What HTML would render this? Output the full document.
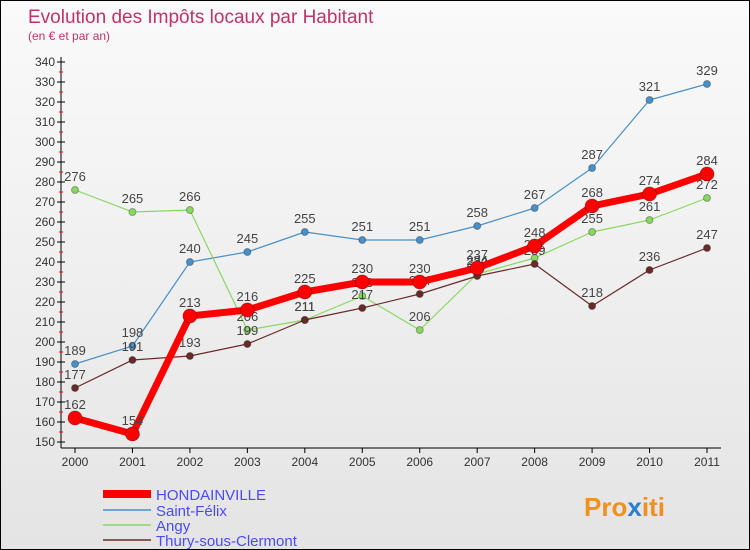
<!DOCTYPE html>
<html><head><meta charset="utf-8"><style>
body{margin:0}
#c{width:750px;height:550px;position:relative;background:linear-gradient(#fafafa,#e4e4e4);box-sizing:border-box;border:1px solid #000;font-family:"Liberation Sans",sans-serif;overflow:hidden}
svg text{font-family:"Liberation Sans",sans-serif}
</style></head><body>
<div id="c">
<svg id="s" width="750" height="550">
<text x="27" y="22" font-size="19" fill="#c0336a">Evolution des Impôts locaux par Habitant</text>
<text x="27" y="39" font-size="12" fill="#c0336a">(en € et par an)</text>
<g id="axes"></g><g id="series"></g>
<g>
<line x1="102" y1="493" x2="150" y2="493" stroke="#f00" stroke-width="8"/>
<text x="155" y="499" font-size="15" fill="#4a4aff">HONDAINVILLE</text>
<line x1="102" y1="509" x2="150" y2="509" stroke="#4a90c8" stroke-width="1.5"/>
<text x="155" y="515" font-size="15" fill="#4a4aff">Saint-Félix</text>
<line x1="102" y1="524" x2="150" y2="524" stroke="#88d860" stroke-width="1.5"/>
<text x="155" y="530" font-size="15" fill="#4a4aff">Angy</text>
<line x1="102" y1="539" x2="150" y2="539" stroke="#6b2a2a" stroke-width="1.5"/>
<text x="155" y="545" font-size="15" fill="#4a4aff">Thury-sous-Clermont</text>
</g>
<text x="583" y="515" font-size="26" font-weight="bold" fill="#f09020">Pro<tspan fill="#2a7fd0">x</tspan>iti</text>
</svg>
</div>
<script>
const years=[2000,2001,2002,2003,2004,2005,2006,2007,2008,2009,2010,2011];
const hondainville=[162,154,213,216,225,230,230,237,248,268,274,284];
const saintFelix=[189,198,240,245,255,251,251,258,267,287,321,329];
const angy=[276,265,266,206,211,223,206,234,242,255,261,272];
const thury=[177,191,193,199,211,217,224,233,239,218,236,247];
const yTicks=[150,160,170,180,190,200,210,220,230,240,250,260,270,280,290,300,310,320,330,340];
const NS="http://www.w3.org/2000/svg";
const xs=i=>74+i*(632/11);
const ys=v=>61+(340-v)*2;
function mk(t,a,p){const e=document.createElementNS(NS,t);for(const k in a)e.setAttribute(k,a[k]);p.appendChild(e);return e;}
const ax=document.getElementById('axes');
let l=mk('line',{x1:60,y1:56,x2:60,y2:447,stroke:'#000'},ax);


l=mk('line',{x1:60,y1:447,x2:720,y2:447,stroke:'#000'},ax);


yTicks.forEach(v=>{
 mk('line',{x1:56,y1:ys(v),x2:64,y2:ys(v),stroke:'#000'},ax);
 if(v<340)mk('line',{x1:58,y1:ys(v+5),x2:62,y2:ys(v+5),stroke:'#f00'},ax);
 const t=mk('text',{x:54,y:ys(v)+4,'font-size':12,fill:'#333','text-anchor':'end'},ax);t.textContent=v;
 
 
});
years.forEach((y,i)=>{
 mk('line',{x1:xs(i),y1:447,x2:xs(i),y2:452,stroke:'#000'},ax);
 const t=mk('text',{x:xs(i),y:465,'font-size':12,fill:'#333','text-anchor':'middle'},ax);t.textContent=y;
 
 
});
const sg=document.getElementById('series');
function draw(data,col,w,r,name){
 const g=mk('g',{},sg);
 
 
 mk('polyline',{points:data.map((v,i)=>xs(i)+','+ys(v)).join(' '),fill:'none',stroke:col,'stroke-width':w,'stroke-linejoin':'round'},g);
 data.forEach((v,i)=>{
  const c=mk('circle',{cx:xs(i),cy:ys(v),r:r,fill:col,stroke:'rgba(0,0,0,0.3)'},g);
  
  
  const t=mk('text',{x:xs(i),y:ys(v)-9,'font-size':13,fill:'#444','text-anchor':'middle'},g);t.textContent=v;
  
  
 });
}
draw(saintFelix,'#4a90c8',1.2,3.5,'series-saint-felix');
draw(angy,'#88d860',1.2,3.5,'series-angy');
draw(thury,'#6b2a2a',1.2,3.5,'series-thury');
draw(hondainville,'#f00',7,7,'series-hondainville');
</script>
</body></html>
